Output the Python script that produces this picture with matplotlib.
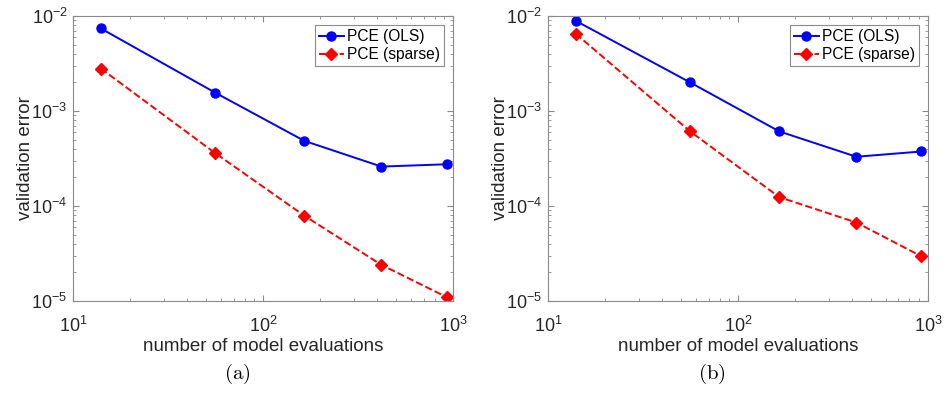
import matplotlib
matplotlib.use("Agg")
from matplotlib import pyplot as plt

plt.rcParams['font.family'] = ['Liberation Sans', 'DejaVu Sans']
plt.rcParams['mathtext.fontset'] = 'custom'
plt.rcParams['mathtext.rm'] = 'Liberation Sans'
plt.rcParams['mathtext.it'] = 'Liberation Sans'

# data
n_eval = [14, 56, 165, 420, 925]

ols_a = [7.4e-3, 1.56e-3, 4.85e-4, 2.6e-4, 2.75e-4]
sparse_a = [2.8e-3, 3.6e-4, 7.9e-5, 2.4e-5, 1.1e-5]

ols_b = [8.9e-3, 2.0e-3, 6.1e-4, 3.3e-4, 3.75e-4]
sparse_b = [6.5e-3, 6.1e-4, 1.24e-4, 6.7e-5, 2.95e-5]

panels = [("(a)", ols_a, sparse_a), ("(b)", ols_b, sparse_b)]

fig = plt.figure(figsize=(9.51, 3.94), dpi=100)
lefts = [0.0768, 0.5762]
grey = '#8a8a8a'
txt = '#262626'

for left, (tag, ols, sparse) in zip(lefts, panels):
    ax = fig.add_axes([left, 0.236, 0.3995, 0.7234])
    ax.loglog(n_eval, ols, '-o', color='#0000ff', lw=1.4, ms=6.5,
              label='PCE (OLS)')
    ax.loglog(n_eval, sparse, '--D', color='#ff0000', lw=1.4, ms=6,
              label='PCE (sparse)')
    ax.set_xlim(10, 1000)
    ax.set_ylim(1e-5, 1e-2)

    for s in ax.spines.values():
        s.set_color(grey)
        s.set_linewidth(0.8)
    ax.tick_params(which='both', direction='in', top=True, right=True,
                   colors=grey, labelcolor=txt, labelsize=13)
    ax.tick_params(which='major', length=4)
    ax.tick_params(which='minor', length=2.5)
    ax.tick_params(axis='x', pad=11)
    ax.tick_params(axis='y', pad=4)

    ax.set_xlabel('number of model evaluations', fontsize=13.5, color=txt,
                  labelpad=1)
    ax.set_ylabel('validation error', fontsize=13.5, color=txt, labelpad=-2)

    leg = ax.legend(loc='upper right', fontsize=11.2, handlelength=1.6,
                    handletextpad=0.2, borderpad=0.25, labelspacing=0.2,
                    fancybox=False, framealpha=1, borderaxespad=0.6)
    leg.get_frame().set_edgecolor(grey)
    leg.get_frame().set_linewidth(0.8)

    fig.text(left - 0.0768 + 0.249, 0.05, r'$\mathrm{' + tag + '}$',
             ha='center', va='center', fontsize=15, color='black',
             math_fontfamily='cm')

fig.savefig('out.png', dpi=100)
